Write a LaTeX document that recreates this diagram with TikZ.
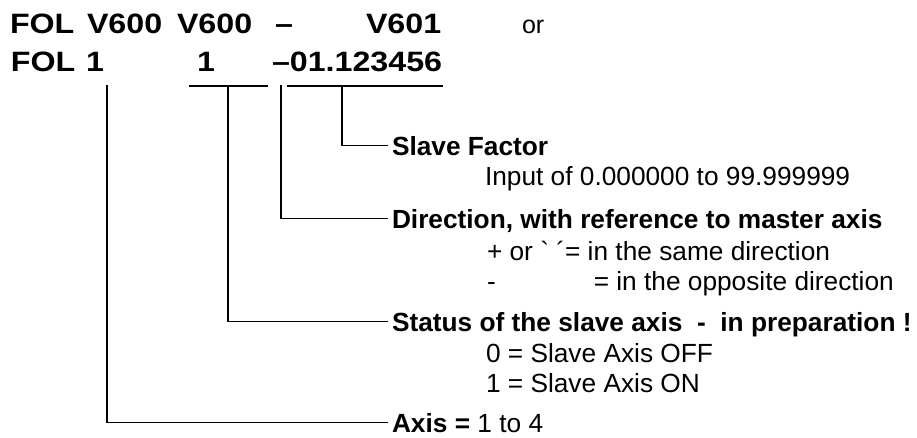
\documentclass[tikz,border=0pt]{standalone}
\usepackage{fontspec}
\newfontfamily\headfont[FakeStretch=1.15]{Liberation Sans}
\newfontfamily\bodyfont{Liberation Sans}
\begin{document}
\begin{tikzpicture}[x=0.75pt,y=-0.75pt,
  hd/.style={font=\headfont\bfseries\fontsize{21}{21}\selectfont, anchor=base west, inner sep=0pt, outer sep=0pt},
  orf/.style={font=\bodyfont\fontsize{18.75}{18.75}\selectfont, anchor=base west, inner sep=0pt, outer sep=0pt},
  lbl/.style={font=\bodyfont\bfseries\fontsize{19.7}{19.7}\selectfont, anchor=base west, inner sep=0pt, outer sep=0pt, text height=14.3pt, text depth=0pt},
  txt/.style={font=\bodyfont\fontsize{19.7}{19.7}\selectfont, anchor=base west, inner sep=0pt, outer sep=0pt},
  ln/.style={line width=1.2pt, line cap=rect}]
\useasboundingbox (0,0) rectangle (917,437);
% header
\node[hd] (h1) at (10,33) {FOL};
\node[hd] (h2) at (87,33) {V600};
\node[hd] (h3) at (177,33) {V600};
\node[hd] (h4) at (275,33) {–};
\node[hd] (h5) at (366,33) {V601};
\node[orf] (or) at (522,33) {or};
\node[hd] (r1) at (11,71) {FOL};
\node[hd] (r2) at (86,71) {1};
\node[hd] (r3) at (197,71) {1};
\node[hd] (r4) at (272,71) {–01.123456};
% underlines
\coordinate (ua) at (190,86); \coordinate (ub) at (267,86);
\coordinate (uc) at (288,86); \coordinate (ud) at (442,86);
\draw[ln] (ua) -- (ub);
\draw[ln] (uc) -- (ud);
\coordinate (t1) at (107,86);
\coordinate (t2) at (228,86);
\coordinate (t3) at (281,86);
\coordinate (t4) at (342,86);
% labels
\node[lbl] (sf) at (392,155) {Slave Factor};
\node[txt] (sfi) at (485,185) {Input of 0.000000 to 99.999999};
\node[lbl] (dir) at (392,228) {Direction, with reference to master axis};
\node[txt] (d1) at (487,260) {+ or ` ´= in the same direction};
\node[txt] (d2) at (487,290) {-\hspace{73.5pt}= in the opposite direction};
\node[lbl] (st) at (392,331) {Status of the slave axis\ \ -\ \ in preparation !};
\node[txt] (s0) at (486,362) {0 = Slave Axis OFF};
\node[txt] (s1) at (486,392) {1 = Slave Axis ON};
\node[lbl] (ax) at (392,432) {Axis = \mdseries 1 to 4};
% connectors
\draw[ln] (t4) |- ([xshift=-3.75pt]sf.west);
\draw[ln] (t3) |- ([xshift=-3.75pt]dir.west);
\draw[ln] (t2) |- ([xshift=-3.75pt]st.west);
\draw[ln] (t1) |- ([xshift=-3.75pt]ax.west);
\end{tikzpicture}
\end{document}
